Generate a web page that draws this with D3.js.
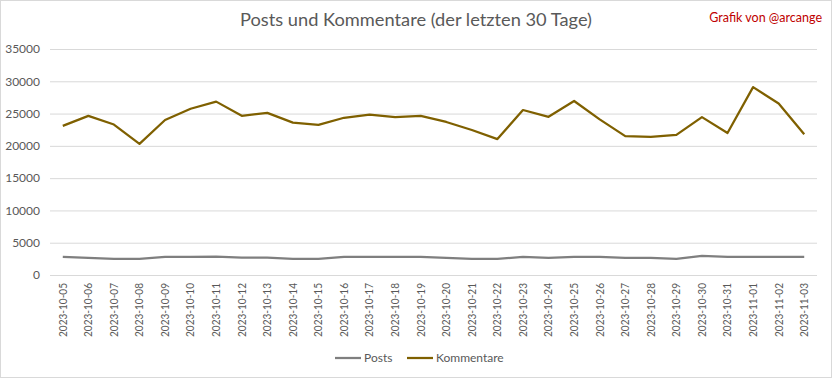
<!DOCTYPE html>
<html>
<head>
  <meta charset="utf-8">
  <title>Posts und Kommentare</title>
  <script src="https://cdn.jsdelivr.net/npm/d3@7"></script>
  <style>
    body { margin: 0; background: #fff; }
    text { font-family: Lato, "Open Sans", sans-serif; }
  </style>
</head>
<body>
  <svg width="832" height="378" id="mainsvg"></svg>
  <script>
    const dates = ['2023-10-05', '2023-10-06', '2023-10-07', '2023-10-08', '2023-10-09', '2023-10-10',
      '2023-10-11', '2023-10-12', '2023-10-13', '2023-10-14', '2023-10-15', '2023-10-16', '2023-10-17',
      '2023-10-18', '2023-10-19', '2023-10-20', '2023-10-21', '2023-10-22', '2023-10-23', '2023-10-24',
      '2023-10-25', '2023-10-26', '2023-10-27', '2023-10-28', '2023-10-29', '2023-10-30', '2023-10-31',
      '2023-11-01', '2023-11-02', '2023-11-03'];
    const posts = [2800, 2650, 2500, 2500, 2800, 2800, 2850, 2700, 2700, 2500, 2500, 2800, 2800,
      2800, 2800, 2650, 2500, 2500, 2800, 2650, 2800, 2800, 2650, 2650, 2500, 2950, 2800,
      2800, 2800, 2800];
    const kommentare = [23100, 24650, 23300, 20300, 24000, 25750, 26850, 24650, 25100, 23600, 23250, 24350, 24850,
      24450, 24650, 23700, 22450, 21050, 25550, 24500, 26950, 24100, 21500, 21400, 21700, 24450, 22000,
      29100, 26550, 21800];
    const yTicks = [0, 5000, 10000, 15000, 20000, 25000, 30000, 35000];

    const svg = d3.select('#mainsvg');
    const width = +svg.attr('width');
    const height = +svg.attr('height');
    const margin = { top: 49, right: 15, bottom: 103, left: 50 };
    const innerWidth = width - margin.left - margin.right;
    const innerHeight = height - margin.top - margin.bottom;

    // outer chart border
    svg.append('rect')
      .attr('x', 0.5).attr('y', 0.5)
      .attr('width', width - 1).attr('height', height - 1)
      .attr('fill', '#fff').attr('stroke', '#d9d9d9');

    const xScale = d3.scaleBand().domain(dates).range([0, innerWidth]);
    const yScale = d3.scaleLinear().domain([0, 35000]).range([innerHeight, 0]);

    const g = svg.append('g')
      .attr('transform', `translate(${margin.left}, ${margin.top})`);

    // gridlines + y labels
    const yAxis = d3.axisLeft(yScale)
      .tickValues(yTicks)
      .tickSize(-innerWidth)
      .tickPadding(10)
      .tickFormat(d3.format('d'));
    const yAxisGroup = g.append('g').call(yAxis);
    yAxisGroup.select('.domain').remove();
    yAxisGroup.selectAll('line').attr('stroke', '#d9d9d9');
    yAxisGroup.selectAll('text')
      .attr('fill', '#595959')
      .attr('font-size', 12)
      .attr('font-family', 'Lato, sans-serif');

    // x labels, rotated
    const xAxis = d3.axisBottom(xScale).tickSize(0).tickPadding(0);
    const xAxisGroup = g.append('g')
      .attr('transform', `translate(0, ${innerHeight})`)
      .call(xAxis);
    xAxisGroup.select('.domain').remove();
    xAxisGroup.selectAll('text')
      .attr('transform', 'rotate(-90)')
      .attr('text-anchor', 'end')
      .attr('dy', '0.35em')
      .attr('x', -8)
      .attr('y', 0)
      .attr('fill', '#595959')
      .attr('font-size', 11)
      .attr('textLength', 54)
      .attr('lengthAdjust', 'spacingAndGlyphs')
      .attr('font-family', 'Lato, sans-serif');

    const xc = d => xScale(d) + xScale.bandwidth() / 2;
    const series = [
      { name: 'Posts', values: posts, color: '#7f7f7f' },
      { name: 'Kommentare', values: kommentare, color: '#7f6000' }
    ];

    const line = d3.line()
      .x((v, i) => xc(dates[i]))
      .y(v => yScale(v));

    g.selectAll('.series')
      .data(series)
      .enter()
      .append('path')
      .attr('class', 'series')
      .attr('d', s => line(s.values))
      .attr('fill', 'none')
      .attr('stroke', s => s.color)
      .attr('stroke-width', 2.25)
      .attr('stroke-linejoin', 'round');

    // title
    svg.append('text')
      .text('Posts und Kommentare (der letzten 30 Tage)')
      .attr('x', 416)
      .attr('y', 26)
      .attr('text-anchor', 'middle')
      .attr('font-size', 18)
      .attr('textLength', 352)
      .attr('lengthAdjust', 'spacingAndGlyphs')
      .attr('fill', '#595959');

    svg.append('text')
      .text('Grafik von @arcange')
      .attr('x', 822)
      .attr('y', 22)
      .attr('text-anchor', 'end')
      .attr('font-size', 12.5)
      .attr('fill', '#c00000');

    // legend
    const legendX = [335, 407];
    const legend = svg.selectAll('.legend')
      .data(series)
      .enter()
      .append('g')
      .attr('class', 'legend')
      .attr('transform', (s, i) => `translate(${legendX[i]}, 358)`);
    legend.append('line')
      .attr('x1', 0).attr('x2', 26)
      .attr('stroke', s => s.color)
      .attr('stroke-width', 2.25);
    legend.append('text')
      .text(s => s.name)
      .attr('x', 29)
      .attr('dy', '0.35em')
      .attr('font-size', 12)
      .attr('fill', '#595959');
  </script>
</body>
</html>
